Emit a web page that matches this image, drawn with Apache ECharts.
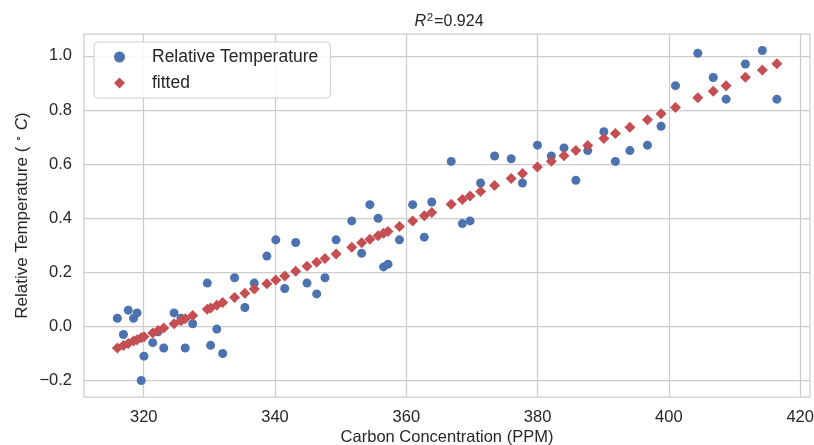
<!DOCTYPE html>
<html>
<head>
	<meta charset="utf-8">
	<title>R2 scatter</title>
	<script type="text/javascript" src="https://cdn.jsdelivr.net/npm/echarts@6/dist/echarts.min.js"></script>
	<style>
		body { margin: 0; background: #fff; }
		#main { width: 814px; height: 445px; }
	</style>
</head>
<body>
<div id="main"></div>
<script type="text/javascript">

	// carbon concentration (ppm), one per year
	var co2 = [315.98, 316.91, 317.64, 318.45, 318.99, 319.62, 320.04, 321.37, 322.18, 323.05,
		324.62, 325.68, 326.32, 327.46, 329.68, 330.19, 331.13, 332.03, 333.84, 335.41,
		336.84, 338.76, 340.12, 341.48, 343.15, 344.87, 346.35, 347.61, 349.31, 351.69,
		353.20, 354.45, 355.70, 356.54, 357.21, 358.96, 360.97, 362.74, 363.88, 366.84,
		368.54, 369.71, 371.32, 373.45, 375.98, 377.70, 379.98, 382.09, 384.02, 385.83,
		387.64, 390.10, 391.85, 394.06, 396.74, 398.81, 401.01, 404.41, 406.76, 408.72,
		411.66, 414.24, 416.45];
	// relative temperature (blue dots)
	var temp = [0.03, -0.03, 0.06, 0.03, 0.05, -0.20, -0.11, -0.06, -0.02, -0.08,
		0.05, 0.03, -0.08, 0.01, 0.16, -0.07, -0.01, -0.10, 0.18, 0.07,
		0.16, 0.26, 0.32, 0.14, 0.31, 0.16, 0.12, 0.18, 0.32, 0.39,
		0.27, 0.45, 0.40, 0.22, 0.23, 0.32, 0.45, 0.33, 0.46, 0.61,
		0.38, 0.39, 0.53, 0.63, 0.62, 0.53, 0.67, 0.63, 0.66, 0.54,
		0.65, 0.72, 0.61, 0.65, 0.67, 0.74, 0.89, 1.01, 0.92, 0.84,
		0.97, 1.02, 0.84];
	// fitted values (red diamonds)
	var fitted = [-0.080, -0.071, -0.063, -0.054, -0.049, -0.042, -0.038, -0.024, -0.015, -0.006,
		0.010, 0.021, 0.028, 0.040, 0.063, 0.068, 0.078, 0.088, 0.107, 0.123,
		0.138, 0.158, 0.172, 0.186, 0.204, 0.222, 0.237, 0.251, 0.268, 0.293,
		0.309, 0.322, 0.335, 0.344, 0.351, 0.369, 0.390, 0.409, 0.421, 0.452,
		0.469, 0.482, 0.499, 0.521, 0.547, 0.565, 0.589, 0.611, 0.631, 0.650,
		0.669, 0.695, 0.713, 0.736, 0.764, 0.786, 0.809, 0.845, 0.869, 0.890,
		0.921, 0.948, 0.971];

	var xTicks = [320, 340, 360, 380, 400, 420];
	var yTicks = [-0.2, 0, 0.2, 0.4, 0.6, 0.8, 1.0];

	var ptsTemp = co2.map(function (c, i) { return [c, temp[i]]; });
	var ptsFit = co2.map(function (c, i) { return [c, fitted[i]]; });

	var myChart = echarts.init(document.getElementById('main'));

	var font = 'Liberation Sans, Arial, sans-serif';
	var ink = '#262626';

	var option = {
		backgroundColor: '#ffffff',
		animation: false,
		textStyle: { fontFamily: font },
		title: {
			text: '{i|R}{s|2}{n|=0.924}',
			left: 444,
			textAlign: 'center',
			top: 7,
			textStyle: {
				fontWeight: 'normal',
				rich: {
					i: { fontStyle: 'italic', fontSize: 16, color: ink, fontFamily: font },
					s: { fontSize: 11, color: ink, verticalAlign: 'top', padding: [0, 1, 8, 1], fontFamily: font },
					n: { fontSize: 16, color: ink, fontFamily: font }
				}
			}
		},
		legend: {
			orient: 'vertical',
			left: 94,
			top: 42,
			padding: [6, 12, 6, 20],
			itemWidth: 11,
			itemHeight: 11,
			itemGap: 8,
			backgroundColor: 'rgba(255,255,255,0.85)',
			borderColor: '#cccccc',
			borderWidth: 1,
			borderRadius: 4,
			textStyle: { fontSize: 17.5, color: ink, padding: [0, 0, 0, 22] },
			data: ['Relative Temperature', 'fitted']
		},
		grid: {
			left: 84,
			right: 4,
			top: 34,
			bottom: 48,
			outerBoundsMode: 'none',
			containLabel: false,
			show: true,
			borderColor: '#cccccc',
			borderWidth: 1.25
		},
		xAxis: {
			type: 'value',
			min: 310.9,
			max: 421.5,
			name: 'Carbon Concentration (PPM)',
			nameLocation: 'middle',
			nameMoveOverlap: false,
			nameGap: 32,
			nameTextStyle: { fontSize: 16.5, color: ink },
			axisLine: { show: false },
			axisTick: { show: false, customValues: xTicks },
			axisLabel: { customValues: xTicks, fontSize: 16.5, color: ink, margin: 12 },
			splitLine: { show: true, customValues: xTicks, lineStyle: { color: '#cccccc', width: 1.25 } }
		},
		yAxis: {
			type: 'value',
			min: -0.261,
			max: 1.081,
			name: '{t|Relative Temperature ( }{s|∘}{c| C}{t|)}',
			nameLocation: 'middle',
			nameMoveOverlap: false,
			nameGap: 52,
			nameTextStyle: {
				rich: {
					t: { fontSize: 17, color: ink, fontFamily: font },
					s: { fontSize: 11, color: ink, verticalAlign: 'top', padding: [0, 0, 8, 0], fontFamily: font },
					c: { fontSize: 17, color: ink, fontStyle: 'italic', fontFamily: font }
				}
			},
			axisLine: { show: false },
			axisTick: { show: false, customValues: yTicks },
			axisLabel: {
				customValues: yTicks,
				fontSize: 16.5,
				color: ink,
				margin: 12,
				formatter: function (v) { return v.toFixed(1).replace('-', '\u2212'); }
			},
			splitLine: { show: true, customValues: yTicks, lineStyle: { color: '#cccccc', width: 1.25 } }
		},
		series: [
			{
				name: 'Relative Temperature',
				type: 'scatter',
				symbol: 'circle',
				symbolSize: 9,
				itemStyle: { color: '#4C72B0', opacity: 1 },
				data: ptsTemp
			},
			{
				name: 'fitted',
				type: 'scatter',
				symbol: 'diamond',
				symbolSize: 11,
				itemStyle: { color: '#C44E52', opacity: 1 },
				data: ptsFit
			}
		]
	};

	myChart.setOption(option);
</script>
</body>
</html>
